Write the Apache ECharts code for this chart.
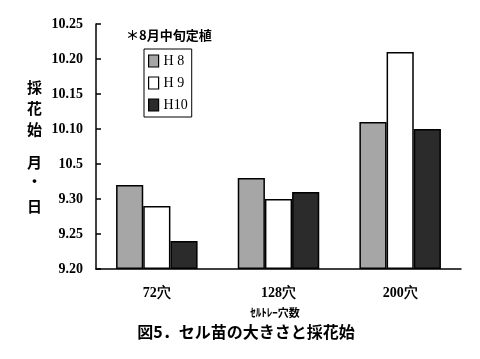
<!DOCTYPE html>
<html><head><meta charset="utf-8">
<script src="https://cdn.jsdelivr.net/npm/echarts@6/dist/echarts.min.js"></script>
<style>html,body{margin:0;padding:0;background:#fff}#c{width:480px;height:359px}</style>
</head><body><div id="c"></div>
<script>
// categories (cell tray hole count)
const categories = ['72穴', '128穴', '200穴'];
// flowering start, in days after 9/20
const h8 = [12, 13, 21];
const h9 = [9, 10, 31];
const h10 = [4, 11, 20];
// y tick labels (month.day), one per 5 days from 9/20
const tickLabels = ['9.20', '9.25', '9.30', '10.5', '10.10', '10.15', '10.20', '10.25'];
const seriesNames = ['H 8', 'H 9', 'H10'];

const chart = echarts.init(document.getElementById('c'), null, {renderer: 'canvas'});
const serif = '"Liberation Serif", "DejaVu Serif", serif';
const jp = '"Noto Sans CJK JP", sans-serif';
const border = {borderColor: '#000', borderWidth: 1.5};
chart.setOption({
  animation: false,
  backgroundColor: '#fff',
  grid: {left: 96, right: 19, top: 24, bottom: 90},
  legend: {
    orient: 'vertical', left: 144, top: 49,
    data: seriesNames, icon: 'rect',
    itemWidth: 10, itemHeight: 12, itemGap: 8, itemTextGap: 7,
    padding: [5, 4, 5, 4],
    borderColor: '#000', borderWidth: 1,
    itemStyle: {borderColor: '#000', borderWidth: 1.2},
    textStyle: {fontFamily: serif, fontSize: 14, color: '#000', lineHeight: 14}
  },
  xAxis: {
    type: 'category', data: categories,
    axisLine: {lineStyle: {color: '#000', width: 1.5}},
    axisTick: {inside: true, length: 5, lineStyle: {color: '#000', width: 1.5}},
    axisLabel: {fontFamily: serif, fontSize: 14, fontWeight: 'bold', color: '#000', margin: 17}
  },
  yAxis: {
    type: 'value', min: 0, max: 35, interval: 5,
    splitLine: {show: false},
    axisLine: {show: true, lineStyle: {color: '#000', width: 1.5}},
    axisTick: {show: true, inside: true, length: 5, lineStyle: {color: '#000', width: 1.5}},
    axisLabel: {
      fontFamily: serif, fontSize: 14, fontWeight: 'bold', color: '#000', margin: 13,
      formatter: v => tickLabels[Math.round(v / 5)]
    }
  },
  series: [
    {name: seriesNames[0], type: 'bar', data: h8, barGap: '0%', barCategoryGap: '33%',
     itemStyle: Object.assign({color: '#a6a6a6'}, border)},
    {name: seriesNames[1], type: 'bar', data: h9, barGap: '0%', barCategoryGap: '33%',
     itemStyle: Object.assign({color: '#ffffff'}, border)},
    {name: seriesNames[2], type: 'bar', data: h10, barGap: '0%', barCategoryGap: '33%',
     itemStyle: Object.assign({color: '#2b2b2b'}, border)}
  ],
  graphic: [
    {type: 'text', left: 126, top: 29, style: {text: '＊8月中旬定植', font: 'bold 13px ' + jp, fill: '#000'}},
    {type: 'text', left: 27, top: 77, style: {text: '採\n花\n始', font: 'bold 15px ' + jp, fill: '#000', lineHeight: 21}},
    {type: 'text', left: 27, top: 155, style: {text: '月', font: 'bold 15px ' + jp, fill: '#000'}},
    {type: 'text', left: 27, top: 174, style: {text: '・', font: 'bold 15px ' + jp, fill: '#000'}},
    {type: 'text', left: 27, top: 199, style: {text: '日', font: 'bold 15px ' + jp, fill: '#000'}},
    {type: 'text', x: 275, y: 313, style: {text: 'ｾﾙﾄﾚｰ穴数', font: 'bold 11px ' + jp, fill: '#000', align: 'center', verticalAlign: 'middle'}},
    {type: 'text', x: 246, y: 332, style: {text: '図5．セル苗の大きさと採花始', font: 'bold 16px ' + jp, fill: '#000', align: 'center', verticalAlign: 'middle'}}
  ]
});
</script></body></html>
